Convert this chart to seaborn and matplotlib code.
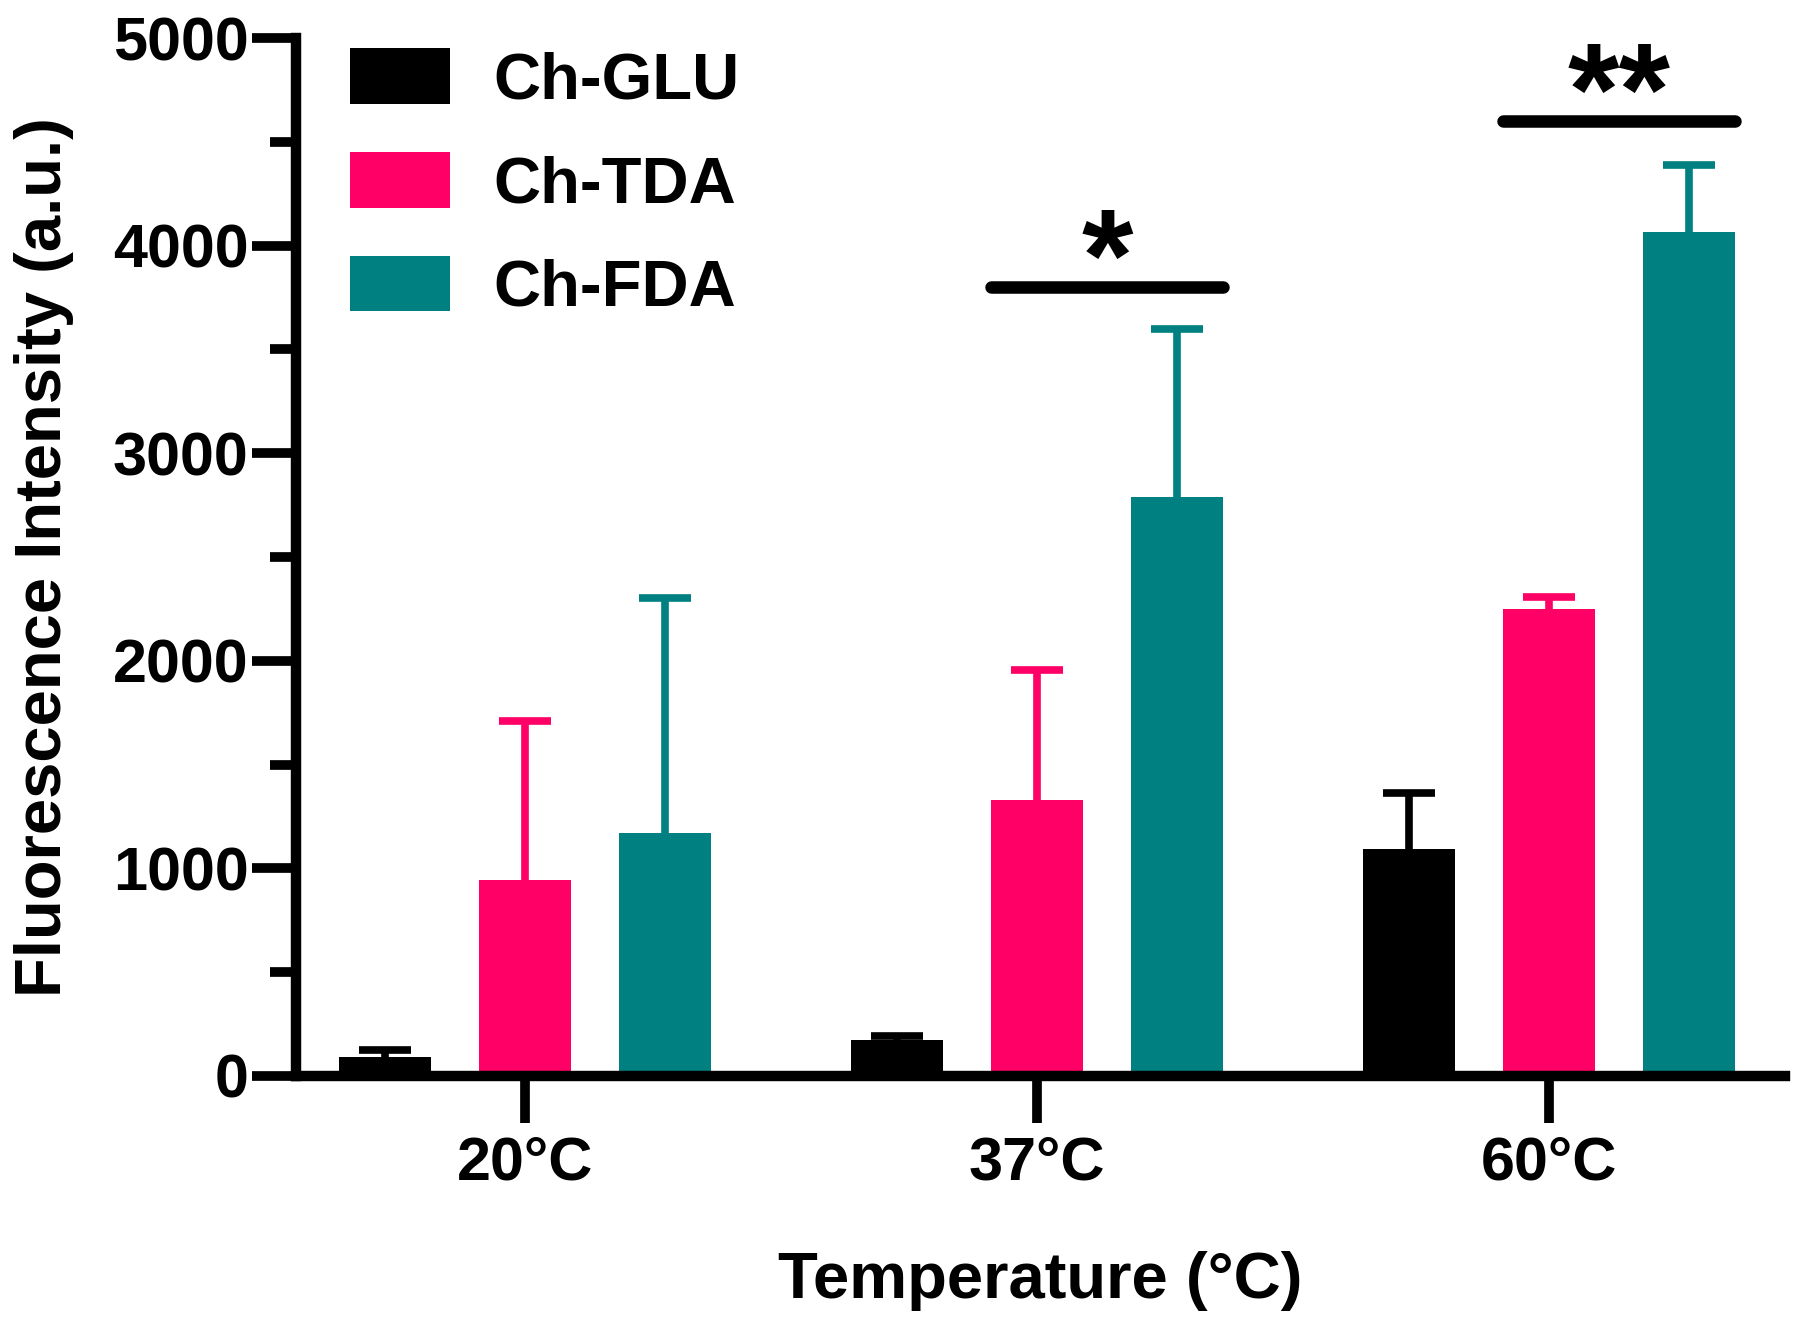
import numpy as np
import pandas as pd
import seaborn as sns
import matplotlib.pyplot as plt
from matplotlib.ticker import MultipleLocator

# values (mean and upper SD)
temps = ['20°C', '37°C', '60°C']
groups = ['Ch-GLU', 'Ch-TDA', 'Ch-FDA']
glu_mean = [90, 172, 1095]
glu_sd = [35, 22, 270]
tda_mean = [945, 1330, 2250]
tda_sd = [765, 626, 56]
fda_mean = [1170, 2789, 4065]
fda_sd = [1132, 809, 321]
colors = ['#000000', '#FF0066', '#008080']

# significance marks: which temperature, label, height of the bar
sig_temps = ['37°C', '60°C']
sig_labels = ['*', '**']
sig_y = [3800, 4600]

df = pd.DataFrame({
    'Temperature': temps * 3,
    'Group': [g for g in groups for _ in temps],
    'Intensity': glu_mean + tda_mean + fda_mean,
})
sds = [glu_sd, tda_sd, fda_sd]

sns.set_style('ticks')
plt.rcParams['font.family'] = ['Liberation Sans', 'DejaVu Sans']
plt.rcParams['font.weight'] = 'bold'
plt.rcParams['axes.labelweight'] = 'bold'
plt.rcParams['text.color'] = 'black'
plt.rcParams['axes.labelcolor'] = 'black'

fig, ax = plt.subplots(figsize=(18, 13.29), dpi=100)
fig.subplots_adjust(left=0.1644, right=0.9917, bottom=0.1904, top=0.9714)

sns.barplot(data=df, x='Temperature', y='Intensity', hue='Group',
            palette=colors, width=0.82, gap=0.34, errorbar=None,
            saturation=1, linewidth=0, ax=ax)

# upper-only error bars on top of each bar
for cont, sd, c in zip(ax.containers, sds, colors):
    xs = [b.get_x() + b.get_width() / 2 for b in cont]
    ys = [b.get_height() for b in cont]
    _, caps, _ = ax.errorbar(xs, ys, yerr=[np.zeros(len(sd)), sd], fmt='none',
                             ecolor=c, elinewidth=5.5, capsize=19, capthick=5.5,
                             zorder=3)
    caps[0].set_visible(False)

# significance bars spanning TDA..FDA
for t, lab, yv in zip(sig_temps, sig_labels, sig_y):
    i = temps.index(t)
    b_left = ax.containers[1][i]
    b_right = ax.containers[2][i]
    x0 = b_left.get_x()
    x1 = b_right.get_x() + b_right.get_width()
    ax.plot([x0, x1], [yv, yv], color='black', lw=9, solid_capstyle='round',
            clip_on=False)
    ax.annotate(lab, xy=((x0 + x1) / 2, yv), xytext=(0, -10),
                textcoords='offset points', ha='center', va='baseline',
                fontsize=95, fontweight='bold', color='black')

ax.set_xlim(-0.447, 2.461)
ax.set_ylim(0, 5000)
ax.yaxis.set_major_locator(MultipleLocator(1000))
ax.yaxis.set_minor_locator(MultipleLocator(500))

sns.despine(ax=ax)
for s in ['left', 'bottom']:
    ax.spines[s].set_linewidth(7.5)
    ax.spines[s].set_color('black')
ax.spines['left'].set_bounds(0, 5000)

ax.tick_params(axis='y', which='major', length=32, width=7, pad=2,
               labelsize=44, colors='black')
ax.tick_params(axis='y', which='minor', length=19, width=7, colors='black')
ax.tick_params(axis='x', which='major', length=34, width=7, pad=9,
               labelsize=44, colors='black')

ax.set_xlabel('Temperature (°C)', fontsize=47, labelpad=42)
ax.set_ylabel('Fluorescence Intensity (a.u.)', fontsize=47, labelpad=28)

sns.move_legend(ax, 'upper left', bbox_to_anchor=(0.036, 0.99), frameon=False,
                title=None, prop={'weight': 'bold', 'size': 47},
                handlelength=1.54, handleheight=0.93, handletextpad=0.66,
                labelspacing=0.62, borderpad=0, borderaxespad=0)

plt.savefig('out.png', dpi=100)
